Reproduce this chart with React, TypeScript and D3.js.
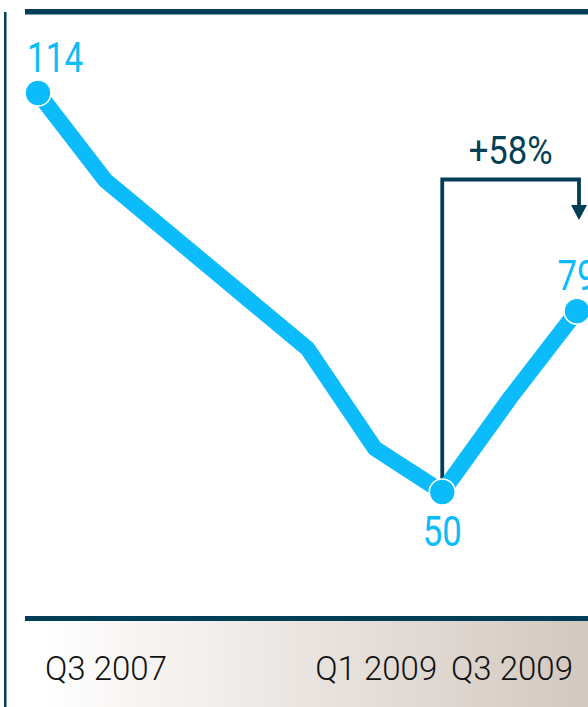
import React from "react";
import * as d3 from "d3";

const quarters = ["Q3 2007", "Q4 2007", "Q1 2008", "Q2 2008", "Q3 2008", "Q4 2008", "Q1 2009", "Q2 2009", "Q3 2009"];
const values = [114, 100, 91, 82, 73, 57, 50, 65, 79];
const labelledIdx = [0, 6, 8];
const axisLabelIdx = [0, 6, 8];
const changeLabel = "+58%";

const W = 588;
const H = 707;
const DARK = "#023f56";
const BLUE = "#0bbbfa";

export default function App() {
  const x = d3.scaleLinear().domain([0, quarters.length - 1]).range([38, 577]);
  const y = d3.scaleLinear().domain([50, 114]).range([492, 93]);
  const line = d3
    .line<number>()
    .x((_, i) => x(i))
    .y((d) => y(d))
    .curve(d3.curveLinear);

  const ax = x(6);
  const bx = x(8) + 2;
  const topY = 179.5;
  const tipY = 220;

  return (
    <svg
      width={W}
      height={H}
      style={{ position: "absolute", left: 0, top: 0, background: "#fff" }}
      fontFamily="Roboto, 'Liberation Sans', sans-serif"
    >
      <defs>
        <linearGradient id="bg" x1="0" x2="1" y1="0" y2="0">
          <stop offset="0.03" stopColor="#ffffff" />
          <stop offset="1" stopColor="#d3c8bf" />
        </linearGradient>
      </defs>
      <rect x={25} y={621} width={W - 25} height={H - 621} fill="url(#bg)" />
      <rect x={4} y={12} width={2.5} height={H - 12} fill={DARK} />
      <rect x={25} y={9} width={W - 25} height={5.5} fill={DARK} />
      <rect x={25} y={616} width={W - 25} height={5} fill={DARK} />

      {/* change arrow */}
      <path
        d={`M${ax},${y(50) - 10} V${topY} H${bx} V${tipY - 14}`}
        fill="none"
        stroke={DARK}
        strokeWidth={3.8}
      />
      <path d={`M${bx - 8},${tipY - 15} L${bx + 8},${tipY - 15} L${bx},${tipY} Z`} fill={DARK} />
      <text
        x={(ax + bx) / 2}
        y={164}
        textAnchor="middle"
        fontSize={38}
        fill={DARK}
        textLength={84}
        lengthAdjust="spacingAndGlyphs"
      >
        {changeLabel}
      </text>

      <path
        d={line(values) || ""}
        fill="none"
        stroke={BLUE}
        strokeWidth={16}
        strokeLinejoin="round"
        strokeLinecap="round"
      />
      {labelledIdx.map((i) => (
        <circle key={i} cx={x(i)} cy={y(values[i])} r={13} fill={BLUE} stroke="#fff" strokeWidth={1.6} />
      ))}

      {labelledIdx.map((i) => {
        const s = String(values[i]);
        const below = i === 6;
        const first = i === 0;
        return (
          <text
            key={"l" + i}
            x={first ? x(i) - 11 : x(i) - (s.length * 19.5) / 2}
            y={below ? y(values[i]) + 54 : y(values[i]) - 21}
            fontSize={42}
            fill={BLUE}
            textLength={s.length * (first ? 18.7 : 19.5)}
            lengthAdjust="spacingAndGlyphs"
          >
            {s}
          </text>
        );
      })}

      {axisLabelIdx.map((i) => {
        const first = i === 0;
        return (
          <text
            key={"a" + i}
            x={first ? x(i) + 7 : x(i) - (i === 8 ? 4 : 5)}
            y={680}
            textAnchor={first ? "start" : "end"}
            fontSize={32.5}
            fontWeight={300}
            fill="#111"
            textLength={122}
            lengthAdjust="spacingAndGlyphs"
          >
            {quarters[i]}
          </text>
        );
      })}
    </svg>
  );
}
